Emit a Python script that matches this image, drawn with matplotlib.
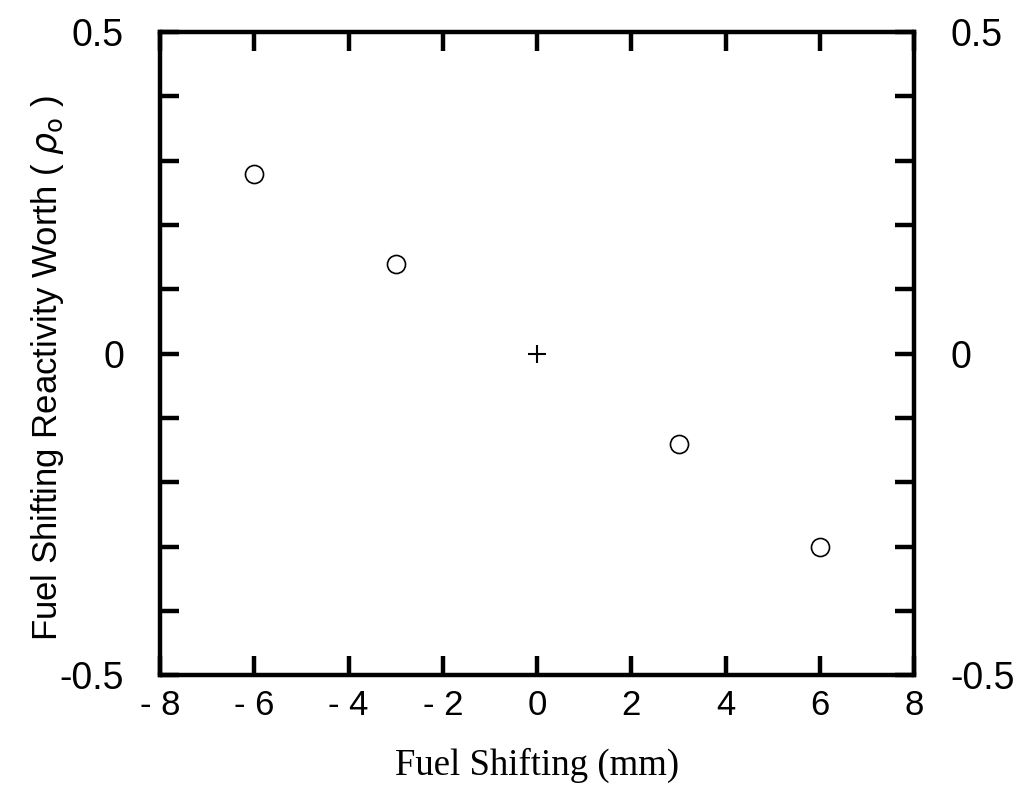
import numpy as np
import matplotlib
matplotlib.use("Agg")
import matplotlib.pyplot as plt
from matplotlib.ticker import FixedLocator, FuncFormatter

# fuel shift (mm) and measured reactivity worth
shift = [-6, -3, 3, 6]
worth = [0.28, 0.14, -0.14, -0.30]
ref_shift = [0]
ref_worth = [0]

xticks = [-8, -6, -4, -2, 0, 2, 4, 6, 8]
xticklabels = ["- 8", "- 6", "- 4", "- 2", "0", "2", "4", "6", "8"]
yticks = np.round(np.arange(-0.5, 0.51, 0.1), 2)
ylabeled = {0.5: "0.5", 0.0: "0", -0.5: "-0.5"}

plt.rcParams["font.family"] = ["Liberation Sans", "DejaVu Sans"]
plt.rcParams["mathtext.fontset"] = "dejavusans"

fig = plt.figure(figsize=(10.26, 8.01), dpi=100)
ax = fig.add_axes([0.156, 0.157, 0.735, 0.803])

ax.plot(shift, worth, "o", mfc="white", mec="black", ms=13, mew=1.2)
ax.plot(ref_shift, ref_worth, "+", color="black", ms=12.5, mew=1.5)

ax.set_xlim(-8, 8)
ax.set_ylim(-0.5, 0.5)

ax.xaxis.set_major_locator(FixedLocator(xticks))
ax.set_xticklabels(xticklabels)
ax.yaxis.set_major_locator(FixedLocator(yticks))
ax.yaxis.set_major_formatter(FuncFormatter(lambda v, p: ylabeled.get(round(v, 2), "")))

for s in ax.spines.values():
    s.set_linewidth(3.2)
ax.tick_params(axis="both", direction="in", length=14, width=3.2,
               top=True, right=True)
ax.tick_params(axis="x", pad=10, labelsize=25)
ax.tick_params(axis="y", pad=26, labelsize=27, labelright=True)

ax.set_ylabel(r"Fuel Shifting Reactivity Worth ( $\rho_\mathrm{o}$ )", fontsize=25)
ax.yaxis.set_label_coords(-0.125, 0.477)
ax.set_xlabel("Fuel Shifting (mm)", fontsize=26.5, family=["Liberation Serif"])
ax.xaxis.set_label_coords(0.5, -0.112)

fig.savefig("out.png", dpi=100)
